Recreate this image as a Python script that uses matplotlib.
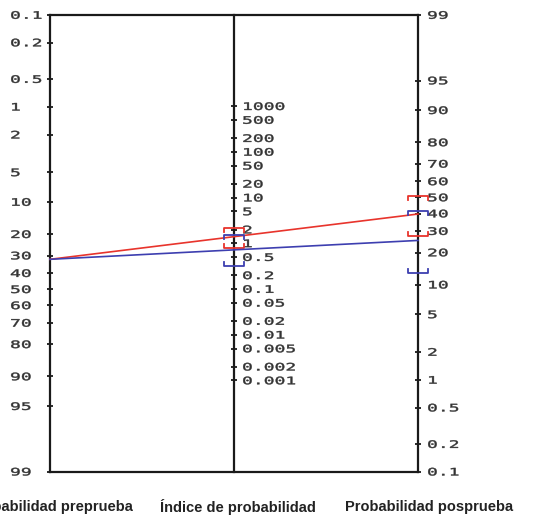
import numpy as np
import matplotlib
matplotlib.use('Agg')
import matplotlib.pyplot as plt
from matplotlib.textpath import TextPath
from matplotlib.patches import PathPatch
from matplotlib.font_manager import FontProperties
from matplotlib.transforms import Affine2D, ScaledTranslation

# scale values (percent / likelihood ratio)
pre_ticks = [0.1, 0.2, 0.5, 1, 2, 5, 10, 20, 30, 40, 50, 60, 70, 80, 90, 95, 99]
pre_labels = ['0.1', '0.2', '0.5', '1', '2', '5', '10', '20', '30', '40', '50',
              '60', '70', '80', '90', '95', '99']
lr_ticks = [1000, 500, 200, 100, 50, 20, 10, 5, 2, 1, 0.5, 0.2, 0.1, 0.05,
            0.02, 0.01, 0.005, 0.002, 0.001]
lr_labels = ['1000', '500', '200', '100', '50', '20', '10', '5', '2', '1', '0.5',
             '0.2', '0.1', '0.05', '0.02', '0.01', '0.005', '0.002', '0.001']
post_ticks = pre_ticks
post_labels = pre_labels

# test results
pretest = 0.32
lr_pos, lr_pos_ci = 1.4, (0.81, 2.2)
lr_neg, lr_neg_ci = 0.72, (0.32, 1.5)

axis_titles = ['Probabilidad preprueba', 'Índice de probabilidad', 'Probabilidad posprueba']

RED = '#e8342c'
BLUE = '#3d3fb0'
INK = '#1a1a1a'


def logit(p):
    return np.log(p / (1 - p))


OFF = (logit(0.99) + logit(0.001)) / 2   # centre shift so both outer scales fill the box
TOP = logit(0.99) - OFF


def v_pre(p):
    return -logit(p) + OFF


def v_post(p):
    return logit(p) - OFF


def v_lr(lr):
    return np.log(lr) / 2


def post_prob(p, lr):
    odds = p / (1 - p) * lr
    return odds / (1 + odds)


W, H = 535, 522
fig = plt.figure(figsize=(W / 100, H / 100), dpi=100)
fig.patch.set_facecolor('white')
x0, x1, ytop, ybot = 50, 418, 15, 471.7
ax = fig.add_axes([x0 / W, 1 - ybot / H, (x1 - x0) / W, (ybot - ytop) / H])
ax.set_xlim(0, 1)
ax.set_ylim(-TOP, TOP)
ax.axis('off')

px_x = 1.0 / (x1 - x0)                # one pixel in x data units
px_y = 2 * TOP / (ybot - ytop)        # one pixel in y data units

# frame and middle axis
lk = dict(color=INK, lw=1.6, clip_on=False, solid_capstyle='projecting')
ax.plot([0, 1], [TOP, TOP], **lk)
ax.plot([0, 1], [-TOP, -TOP], **lk)
ax.plot([0, 0], [-TOP, TOP], **lk)
ax.plot([1, 1], [-TOP, TOP], **lk)
ax.plot([0.5, 0.5], [-TOP, TOP], **lk)

fp = FontProperties(family='DejaVu Sans Mono')
FS = 10.3     # glyph size in pixels
SX = 1.75     # horizontal stretch of the labels


def wide_label(x, y, s, dx):
    tp = TextPath((0, 0), s, size=FS, prop=fp)
    tr = (Affine2D().scale(SX, 1).translate(dx, -0.729 * FS / 2)
          + ScaledTranslation(x, y, ax.transData))
    ax.add_patch(PathPatch(tp, transform=tr, facecolor='#333333', edgecolor='#333333',
                           lw=0.3, clip_on=False))


def ticks(x, vals, labels, conv, dx):
    ys = [conv(v) for v in vals]
    ax.plot([x] * len(ys), ys, ls='none', marker='_', ms=5, mew=1.3, color=INK,
            clip_on=False)
    for y, s in zip(ys, labels):
        wide_label(x, y, s, dx)


ticks(0, pre_ticks, pre_labels, lambda p: v_pre(p / 100), -40)
ticks(0.5, lr_ticks, lr_labels, v_lr, 8)
ticks(1, post_ticks, post_labels, lambda p: v_post(p / 100), 9)


def bracket(x, y, up, color):
    hw = 10 * px_x
    h = 4 * px_y * (-1 if up else 1)
    ax.plot([x - hw, x - hw, x + hw, x + hw], [y - h, y, y, y - h], color=color,
            lw=1.3, clip_on=False)


for lr, ci, c in [(lr_pos, lr_pos_ci, RED), (lr_neg, lr_neg_ci, BLUE)]:
    ax.plot([0, 1], [v_pre(pretest), v_post(post_prob(pretest, lr))], color=c, lw=1.2,
            clip_on=False)
    lo, hi = ci
    bracket(0.5, v_lr(hi), False, c)
    bracket(0.5, v_lr(lo), True, c)
    bracket(1, v_post(post_prob(pretest, hi)), False, c)
    bracket(1, v_post(post_prob(pretest, lo)), True, c)

for xp, t in zip([50, 238, 429], axis_titles):
    fig.text(xp / W, 1 - 507 / H, t, ha='center', va='center', fontsize=10.5,
             fontweight='bold', family='Liberation Sans', color='#222222')

fig.savefig('out.png', dpi=100, facecolor='white')
